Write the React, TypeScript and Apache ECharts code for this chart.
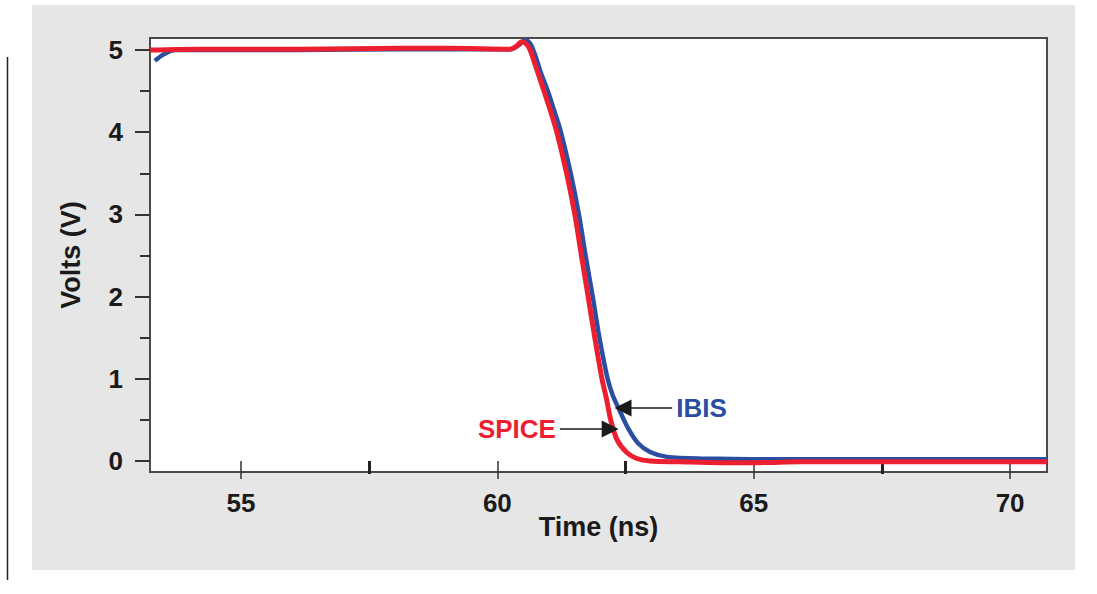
import React, { useEffect, useRef } from "react";
import * as echarts from "echarts";

// Time (ns) and Volts (V)
const SPICE_T = [53.23, 54.2, 56.15, 58.1, 59.08, 60.25, 60.36, 60.48, 60.57, 60.64, 60.77, 60.91, 61.03, 61.16, 61.35, 61.51, 61.64, 61.77, 61.9, 62.04, 62.13, 62.21, 62.34, 62.53, 62.72, 62.98, 63.56, 64.34, 65.12, 65.9, 67.85, 70.72];
const SPICE_V = [5.0, 5.01, 5.01, 5.02, 5.02, 5.01, 5.04, 5.1, 5.07, 5.0, 4.76, 4.5, 4.27, 4.0, 3.5, 3.0, 2.5, 2.0, 1.5, 1.0, 0.75, 0.5, 0.25, 0.1, 0.03, 0.0, -0.01, -0.02, -0.02, -0.01, -0.01, -0.01];

const IBIS_T = [53.32, 53.5, 53.71, 54.2, 56.15, 58.1, 60.25, 60.42, 60.54, 60.64, 60.73, 60.85, 60.99, 61.12, 61.24, 61.43, 61.59, 61.72, 61.86, 61.99, 62.15, 62.25, 62.38, 62.54, 62.74, 62.98, 63.31, 63.95, 65.9, 67.85, 70.72];
const IBIS_V = [4.87, 4.95, 5.0, 5.0, 5.0, 5.01, 5.01, 5.06, 5.12, 5.08, 4.95, 4.72, 4.49, 4.24, 4.0, 3.5, 3.0, 2.5, 2.0, 1.5, 1.0, 0.8, 0.62, 0.41, 0.22, 0.11, 0.05, 0.03, 0.02, 0.02, 0.02];

const X_MAJOR = [55, 60, 65, 70];
const X_MINOR = [57.5, 62.5, 67.5];
const Y_MAJOR = [0, 1, 2, 3, 4, 5];
const Y_MINOR = [0.5, 1.5, 2.5, 3.5, 4.5];

// annotation arrows (data units): [from, to]
const SPICE_ARROW = [[61.22, 0.39], [62.2, 0.39]];
const IBIS_ARROW = [[63.41, 0.645], [62.45, 0.645]];

const FONT = "'Liberation Sans', Arial, sans-serif";
const RED = "#ec1f30";
const BLUE = "#2a4fa2";

export default function App() {
  const ref = useRef<HTMLDivElement>(null);
  useEffect(() => {
    if (!ref.current) return;
    const chart = echarts.init(ref.current, undefined, { renderer: "svg" });
    const xMin = 53.225, xMax = 70.72, yMin = -0.134, yMax = 5.146;
    const labelStyle = { fontFamily: FONT, fontWeight: "bold" as const, fontSize: 26, color: "#1a1a1a" };
    const arrowLine = (pts: number[][], text: string, color: string) => ({
      silent: true,
      symbol: ["none", "triangle"],
      symbolSize: [17, 17],
      lineStyle: { color: "#1a1a1a", width: 1.5, type: "solid" },
      label: {
        show: true,
        position: "start",
        distance: 4,
        formatter: text,
        fontFamily: FONT,
        fontWeight: "bold",
        fontSize: 26,
        color,
      },
      data: [[{ coord: pts[0] }, { coord: pts[1] }]],
    });
    chart.setOption({
      animation: false,
      backgroundColor: "#ffffff",
      graphic: [
        { type: "rect", z: -10, shape: { x: 32, y: 5, width: 1043, height: 565 }, style: { fill: "#e6e6e6" } },
        { type: "line", z: -10, shape: { x1: 7.5, y1: 57, x2: 7.5, y2: 580 }, style: { stroke: "#222", lineWidth: 1.5 } },
      ],
      grid: {
        left: 150, top: 38, right: 50, bottom: 122,
        show: true, backgroundColor: "#ffffff", borderColor: "#4a4a4a", borderWidth: 2,
      },
      xAxis: [
        {
          type: "value", min: xMin, max: xMax, position: "bottom",
          name: "Time (ns)", nameLocation: "middle", nameGap: 41, nameMoveOverlap: false,
          nameTextStyle: { ...labelStyle, fontSize: 27 },
          axisLine: { show: false },
          splitLine: { show: false },
          axisTick: { show: true, customValues: X_MAJOR, length: 18, lineStyle: { color: "#333", width: 1.5 } },
          axisLabel: { ...labelStyle, customValues: X_MAJOR, margin: 18 },
        },
        {
          type: "value", min: xMin, max: xMax, position: "bottom",
          axisLine: { show: false },
          splitLine: { show: false },
          axisTick: { show: true, customValues: X_MINOR, length: 13, lineStyle: { color: "#222", width: 3 } },
          axisLabel: { show: false },
        },
      ],
      yAxis: [
        {
          type: "value", min: yMin, max: yMax, position: "left",
          name: "Volts (V)", nameLocation: "middle", nameGap: 66, nameRotate: 90, nameMoveOverlap: false,
          nameTextStyle: { ...labelStyle, fontSize: 27 },
          axisLine: { show: false },
          splitLine: { show: false },
          axisTick: { show: true, customValues: Y_MAJOR, length: 15, lineStyle: { color: "#333", width: 2 } },
          axisLabel: { ...labelStyle, customValues: Y_MAJOR, margin: 27 },
        },
        {
          type: "value", min: yMin, max: yMax, position: "left",
          axisLine: { show: false },
          splitLine: { show: false },
          axisTick: { show: true, customValues: Y_MINOR, length: 10, lineStyle: { color: "#333", width: 2 } },
          axisLabel: { show: false },
        },
      ],
      series: [
        {
          name: "IBIS", type: "line", xAxisIndex: 0, yAxisIndex: 0,
          data: IBIS_T.map((t, i) => [t, IBIS_V[i]]),
          showSymbol: false, smooth: 0.3,
          lineStyle: { color: BLUE, width: 4.5 },
          markLine: arrowLine(IBIS_ARROW, "IBIS", BLUE),
        },
        {
          name: "SPICE", type: "line", xAxisIndex: 0, yAxisIndex: 0,
          data: SPICE_T.map((t, i) => [t, SPICE_V[i]]),
          showSymbol: false, smooth: 0.3,
          lineStyle: { color: RED, width: 5 },
          markLine: arrowLine(SPICE_ARROW, "SPICE", RED),
        },
      ],
    });
    return () => chart.dispose();
  }, []);
  return <div ref={ref} style={{ position: "fixed", left: 0, top: 0, width: 1097, height: 594 }} />;
}
